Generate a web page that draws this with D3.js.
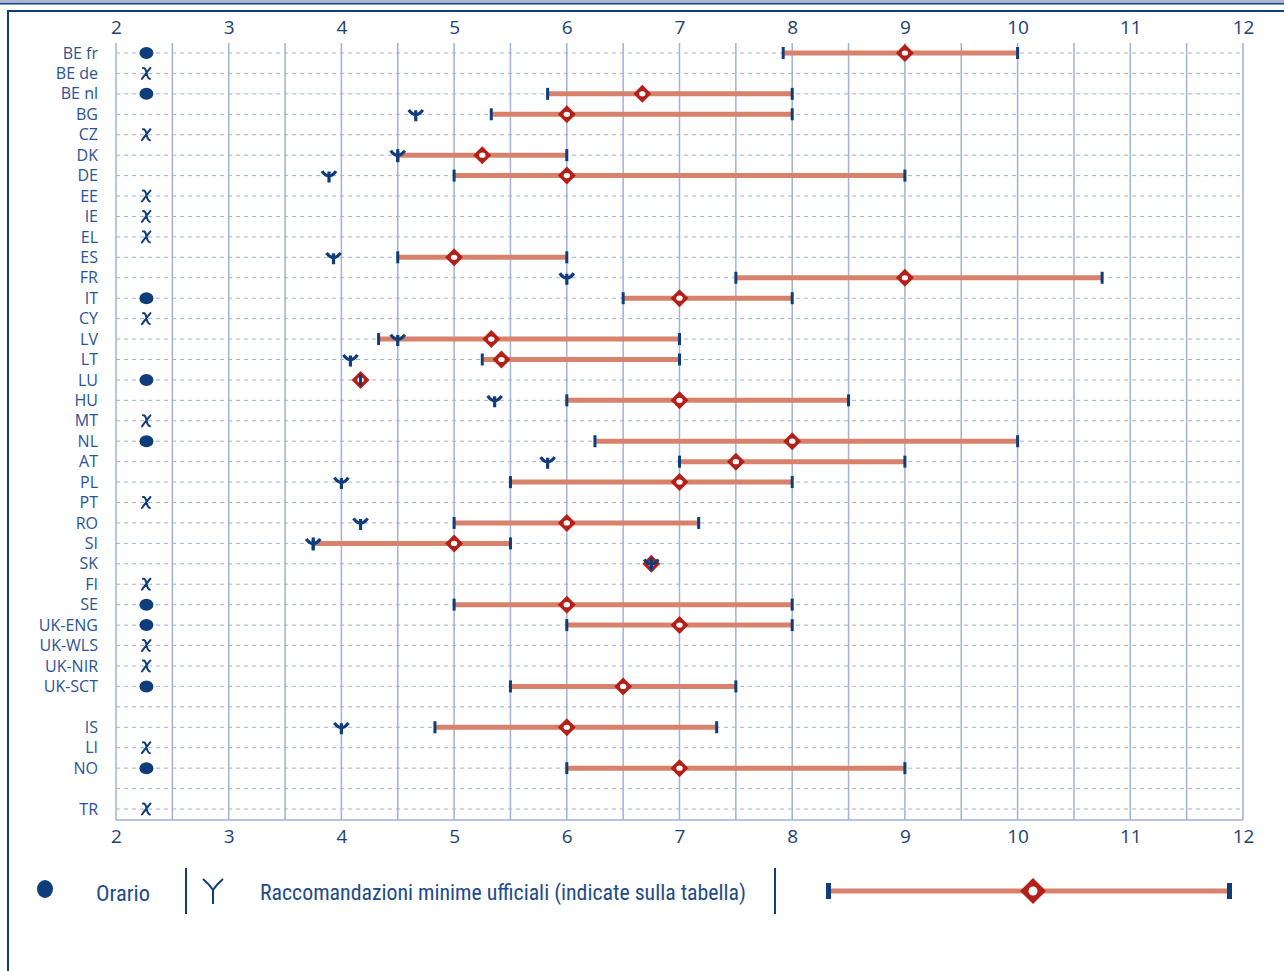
<!DOCTYPE html>
<html>
<head>
<meta charset="utf-8">
<script src="https://cdn.jsdelivr.net/npm/d3@7"></script>
<style>
  html, body { margin: 0; padding: 0; background: #fff; }
  svg { display: block; }
</style>
</head>
<body>
<svg id="chart" width="1284" height="971"></svg>
<script>
// ---------------- DATA ----------------
const categories = ["BE fr","BE de","BE nl","BG","CZ","DK","DE","EE","IE","EL","ES","FR","IT","CY","LV","LT","LU","HU","MT","NL","AT","PL","PT","RO","SI","SK","FI","SE","UK-ENG","UK-WLS","UK-NIR","UK-SCT","","IS","LI","NO","","TR"];
// "dot" = orario fissato, "x" = nessun orario, "" = nessun simbolo
const timetable = ["dot","x","dot","","x","","","x","x","x","","","dot","x","","","dot","","x","dot","","","x","","","","x","dot","dot","x","x","dot","","","x","dot","","x"];
// raccomandazioni minime ufficiali (null = assente)
const recommendation = [null,null,null,4.66,null,4.5,3.89,null,null,null,3.93,6,null,null,4.5,4.08,null,5.36,null,null,5.83,4,null,4.17,3.75,6.75,null,null,null,null,null,null,null,4,null,null,null,null];
// intervallo: minimo, mediana, massimo (null = assente)
const rangeMin    = [7.92,null,5.83,5.33,null,4.5,5,null,null,null,4.5,7.5,6.5,null,4.33,5.25,4.17,6,null,6.25,7,5.5,null,5,3.75,6.75,null,5,6,null,null,5.5,null,4.83,null,6,null,null];
const rangeMedian = [9,null,6.67,6,null,5.25,6,null,null,null,5,9,7,null,5.33,5.42,4.17,7,null,8,7.5,7,null,6,5,6.75,null,6,7,null,null,6.5,null,6,null,7,null,null];
const rangeMax    = [10,null,8,8,null,6,9,null,null,null,6,10.75,8,null,7,7,4.17,8.5,null,10,9,8,null,7.17,5.5,6.75,null,8,8,null,null,7.5,null,7.33,null,9,null,null];
const xTicks = [2,3,4,5,6,7,8,9,10,11,12];
const legendLabels = ["Orario","Raccomandazioni minime ufficiali (indicate sulla tabella)"];

// ---------------- STYLE ----------------
const C = {
  dark: "#0f3c7b",
  text: "#2a5396",
  tick: "#1c3f78",
  grid: "#9fb3d3",
  bar: "#d8826b",
  diamond: "#b51f19"
};

const svg = d3.select("#chart");

// frame
svg.append("rect").attr("x",0).attr("y",0).attr("width",1284).attr("height",3).attr("fill","#a9b6d3");
svg.append("rect").attr("x",0).attr("y",3).attr("width",1284).attr("height",1.5).attr("fill","#1d3f7a");
svg.append("line").attr("x1",7).attr("x2",1284).attr("y1",11).attr("y2",11).attr("stroke","#0f3c7b").attr("stroke-width",2);
svg.append("line").attr("x1",8).attr("x2",8).attr("y1",10).attr("y2",971).attr("stroke","#0f3c7b").attr("stroke-width",2);

// scales
const x = d3.scaleLinear().domain([2,12]).range([116,1243]);
const y = d3.scaleLinear().domain([0, categories.length-1]).range([53,809]);
const plotTop = 43, plotBottom = 820;

const rows = categories.map((c,i)=>({
  i, cat:c, tt:timetable[i], rec:recommendation[i],
  min:rangeMin[i], med:rangeMedian[i], max:rangeMax[i]
}));

// vertical grid lines every 0.5
const halfSteps = d3.range(2, 12.001, 0.5);
svg.append("g").selectAll("line").data(halfSteps).join("line")
  .attr("x1",d=>x(d)).attr("x2",d=>x(d))
  .attr("y1",plotTop).attr("y2",plotBottom)
  .attr("stroke",C.grid).attr("stroke-width",1.5);

// horizontal dashed lines
svg.append("g").selectAll("line").data(rows).join("line")
  .attr("x1",x(2)).attr("x2",x(12))
  .attr("y1",d=>y(d.i)).attr("y2",d=>y(d.i))
  .attr("stroke",C.grid).attr("stroke-width",1).attr("stroke-dasharray","4,4");

// bottom line
svg.append("line").attr("x1",x(2)).attr("x2",x(12)).attr("y1",plotBottom).attr("y2",plotBottom)
  .attr("stroke",C.grid).attr("stroke-width",1.5);

// axes (top and bottom), labels only
const fontTick = "'Open Sans', 'Noto Sans', sans-serif";
const axTop = d3.axisTop(x).tickValues(xTicks).tickSize(0).tickPadding(0).tickFormat(d3.format("d"));
const axBot = d3.axisBottom(x).tickValues(xTicks).tickSize(0).tickPadding(0).tickFormat(d3.format("d"));
const gTop = svg.append("g").attr("transform","translate(0,34)").call(axTop);
const gBot = svg.append("g").attr("transform","translate(0,829)").call(axBot);
[gTop,gBot].forEach(g=>{
  g.select(".domain").remove();
  g.selectAll("text").attr("font-family",fontTick).attr("font-size",19).attr("fill",C.tick);
});
gBot.selectAll("text").attr("dy","0.71em");

// category labels
const axLeft = d3.axisLeft(y).tickValues(d3.range(categories.length)).tickSize(0).tickPadding(0)
  .tickFormat(i=>categories[i]);
const gLeft = svg.append("g").attr("transform","translate(98,0)").call(axLeft);
gLeft.select(".domain").remove();
gLeft.selectAll("text").attr("font-family",fontTick).attr("font-size",16).attr("fill",C.text);

// timetable markers
const xTT = x(2.27);
svg.append("g").selectAll("ellipse").data(rows.filter(r=>r.tt==="dot")).join("ellipse")
  .attr("cx",xTT).attr("cy",d=>y(d.i)).attr("rx",7).attr("ry",6).attr("fill",C.dark);
svg.append("g").selectAll("path").data(rows.filter(r=>r.tt==="x")).join("path")
  .attr("transform",d=>`translate(${xTT},${y(d.i)})`)
  .attr("d","M-3.5,-5.5 Q-1,-6 0,-1 Q1,5 3.5,5.5 M4,-5.5 Q1,-2 -4.5,5.5")
  .attr("fill","none").attr("stroke",C.dark).attr("stroke-width",2).attr("stroke-linecap","round");

// ranges
const ranges = rows.filter(r=>r.min!=null);
svg.append("g").selectAll("line").data(ranges).join("line")
  .attr("x1",d=>x(d.min)).attr("x2",d=>x(d.max))
  .attr("y1",d=>y(d.i)).attr("y2",d=>y(d.i))
  .attr("stroke",C.bar).attr("stroke-width",5);
const ends = ranges.flatMap(d=>[{i:d.i,v:d.min},{i:d.i,v:d.max}]);
svg.append("g").selectAll("rect").data(ends).join("rect")
  .attr("x",d=>x(d.v)-1.5).attr("y",d=>y(d.i)-6).attr("width",3).attr("height",12).attr("fill",C.dark);

// medians
const gMed = svg.append("g").selectAll("g").data(ranges).join("g")
  .attr("transform",d=>`translate(${x(d.med)},${y(d.i)})`);
gMed.append("path").attr("d","M0,-9 L9,0 L0,9 L-9,0 Z").attr("fill",C.diamond);
gMed.append("ellipse").attr("rx",3.2).attr("ry",2.6).attr("fill","#fff");
// LU & SK: tick through diamond
svg.append("g").selectAll("rect").data(ranges.filter(d=>d.min===d.max)).join("rect")
  .attr("x",d=>x(d.min)-1.5).attr("y",d=>y(d.i)-6).attr("width",3).attr("height",12).attr("fill",C.dark);

// recommendations
const recPath = "M0,-4 L0,7 M-7,-4.5 Q-4,0 0,0.5 Q4,0 7,-4.5";
svg.append("g").selectAll("path").data(rows.filter(r=>r.rec!=null)).join("path")
  .attr("transform",d=>`translate(${x(d.rec)},${y(d.i)})`)
  .attr("d",recPath).attr("fill","none").attr("stroke",C.dark).attr("stroke-width",3.2);

// ---------------- LEGEND ----------------
const fontLeg = "'Liberation Sans Narrow', 'Roboto Condensed', 'Roboto', sans-serif";
const lg = svg.append("g");
lg.append("ellipse").attr("cx",45).attr("cy",889).attr("rx",8).attr("ry",9).attr("fill",C.dark);
lg.append("text").attr("x",96).attr("y",901).text(legendLabels[0])
  .attr("font-family",fontLeg).attr("font-size",22).attr("fill","#1d4a8c")
  .attr("textLength",54).attr("lengthAdjust","spacingAndGlyphs");
lg.append("line").attr("x1",186).attr("x2",186).attr("y1",868).attr("y2",914).attr("stroke",C.dark).attr("stroke-width",2);
lg.append("path").attr("transform","translate(213,890)")
  .attr("d","M0,0 L0,14 M-10,-11 Q-4,-6 0,0 Q4,-6 10,-11")
  .attr("fill","none").attr("stroke",C.dark).attr("stroke-width",2);
lg.append("text").attr("x",260).attr("y",900).text(legendLabels[1])
  .attr("font-family",fontLeg).attr("font-size",22).attr("fill","#1d4a8c")
  .attr("textLength",486).attr("lengthAdjust","spacingAndGlyphs");
lg.append("line").attr("x1",775).attr("x2",775).attr("y1",868).attr("y2",914).attr("stroke",C.dark).attr("stroke-width",2);
lg.append("line").attr("x1",828).attr("x2",1230).attr("y1",891).attr("y2",891).attr("stroke",C.bar).attr("stroke-width",5);
lg.append("rect").attr("x",826).attr("y",883).attr("width",5).attr("height",16).attr("fill",C.dark);
lg.append("rect").attr("x",1227).attr("y",883).attr("width",5).attr("height",16).attr("fill",C.dark);
lg.append("path").attr("transform","translate(1033,891)").attr("d","M0,-13 L13,0 L0,13 L-13,0 Z").attr("fill",C.diamond);
lg.append("ellipse").attr("cx",1033).attr("cy",891).attr("rx",4.5).attr("ry",4.5).attr("fill","#fff");
</script>
</body>
</html>
